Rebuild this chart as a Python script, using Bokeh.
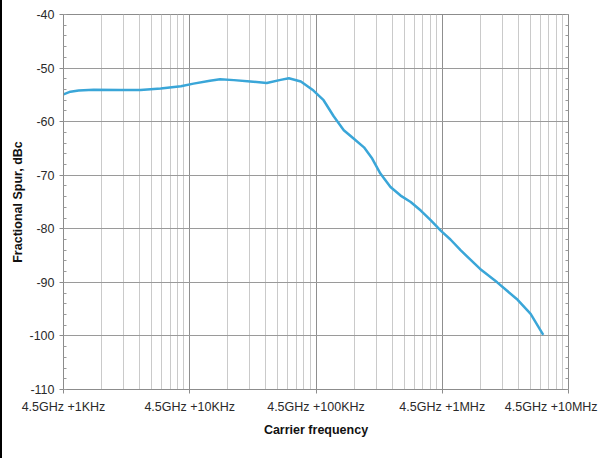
from bokeh.plotting import figure
from bokeh.models import (LinearAxis, SingleIntervalTicker, FixedTicker, Range1d,
                          Title, CustomJSTickFormatter)
from bokeh.embed import file_html
from bokeh.resources import INLINE

# Offset from the 4.5 GHz carrier, in Hz
offset_hz = [1000, 1135, 1318, 1738, 2818, 4074, 5888, 8511, 10715, 14454, 17378,
             22387, 30200, 40738, 52481, 60954, 75858, 95499, 114815, 138038,
             165959, 199526, 239883, 278612, 323594, 389045, 467735, 562341,
             676083, 812831, 977237, 1161449, 1396368, 1995262, 2722701,
             3890451, 5011872, 6309573]
# Fractional spur level, dBc
spur_dbc = [-54.9, -54.4, -54.2, -54.05, -54.1, -54.1, -53.8, -53.4, -52.9, -52.35, -52.1,
            -52.25, -52.5, -52.8, -52.2, -51.9, -52.5, -54.2, -56.0, -59.0,
            -61.6, -63.2, -64.8, -66.9, -69.7, -72.2, -73.8, -75.0,
            -76.6, -78.45, -80.4, -82.0, -84.0, -87.5, -90.0,
            -93.1, -95.9, -99.8]

x_ticks = [1e3, 1e4, 1e5, 1e6, 1e7]
x_tick_labels = ["4.5GHz +1KHz", "4.5GHz +10KHz", "4.5GHz +100KHz",
                 "4.5GHz +1MHz", "4.5GHz +10MHz"]
y_min, y_max, y_step = -110, -40, 10

FONT = "Liberation Sans"
LINE = "#3aa6d8"
AXIS = "#8c8c8c"

p = figure(width=611, height=455, x_axis_type="log",
           x_range=Range1d(x_ticks[0], x_ticks[-1]), y_range=Range1d(y_min, y_max),
           output_backend="svg", toolbar_location=None,
           min_border_left=63, min_border_right=43, min_border_top=14,
           min_border_bottom=66)
p.background_fill_color = "white"
p.border_fill_color = "white"
p.outline_line_color = AXIS

# x axis
xa = p.xaxis[0]
xa.ticker = FixedTicker(ticks=x_ticks,
                        minor_ticks=[m * d for d in x_ticks[:-1] for m in range(2, 10)])
labels = list(x_tick_labels)
# the last label is pushed left (as in the picture) so it stays inside the page
labels[-1] = labels[-1] + "\u00a0" * 4
xa.major_label_overrides = {x_ticks[i]: labels[i] for i in range(len(x_ticks))}
xa.axis_label = "Carrier frequency"
xa.axis_label_text_font = FONT
xa.axis_label_text_font_style = "bold"
xa.axis_label_text_font_size = "12.5px"
xa.axis_label_text_color = "#111111"
xa.axis_label_standoff = 6
xa.major_label_text_font = FONT
xa.major_label_text_font_size = "12.5px"
xa.major_label_text_color = "#2a2a2a"
xa.major_label_standoff = 6
xa.major_tick_out = 4
xa.major_tick_in = 0
xa.minor_tick_out = 0
xa.minor_tick_in = 0
xa.axis_line_color = AXIS
xa.major_tick_line_color = AXIS

# y axis
ya = p.yaxis[0]
ya.ticker = SingleIntervalTicker(interval=y_step, num_minor_ticks=5)
ya.formatter = CustomJSTickFormatter(code="return String(Math.round(tick));")
ya.major_label_text_font = FONT
ya.major_label_text_font_size = "12.5px"
ya.major_label_text_color = "#2a2a2a"
ya.major_label_standoff = 5
ya.major_tick_out = 4
ya.major_tick_in = 0
ya.minor_tick_in = 3
ya.minor_tick_out = 0
ya.axis_line_color = AXIS
ya.major_tick_line_color = AXIS
ya.minor_tick_line_color = "#9a9a9a"

# y axis title
p.add_layout(Title(text="Fractional Spur, dBc", align="center", offset=-4,
                   standoff=4, text_font=FONT, text_font_size="12.5px",
                   text_font_style="bold", text_color="#111111"), "left")

# right axis with inner ticks only
ra = LinearAxis(ticker=FixedTicker(ticks=[], minor_ticks=list(range(y_min, y_max + 1, 2))))
ra.major_tick_in = 0
ra.major_tick_out = 0
ra.minor_tick_in = 3
ra.minor_tick_out = 0
ra.axis_line_color = AXIS
ra.minor_tick_line_color = "#9a9a9a"
p.add_layout(ra, "right")

# grids
p.xgrid.grid_line_color = "#8f8f8f"
p.xgrid.minor_grid_line_color = "#cacaca"
p.ygrid.grid_line_color = "#9a9a9a"
p.ygrid.minor_grid_line_color = None

p.line(offset_hz, spur_dbc, line_color=LINE, line_width=2.5)

html = file_html(p, INLINE)
html = html.replace("</body>", '<div style="position:fixed;left:0;top:0;width:2px;height:100%;background:#000;z-index:100"></div></body>', 1)
open("out.html", "w").write(html)
